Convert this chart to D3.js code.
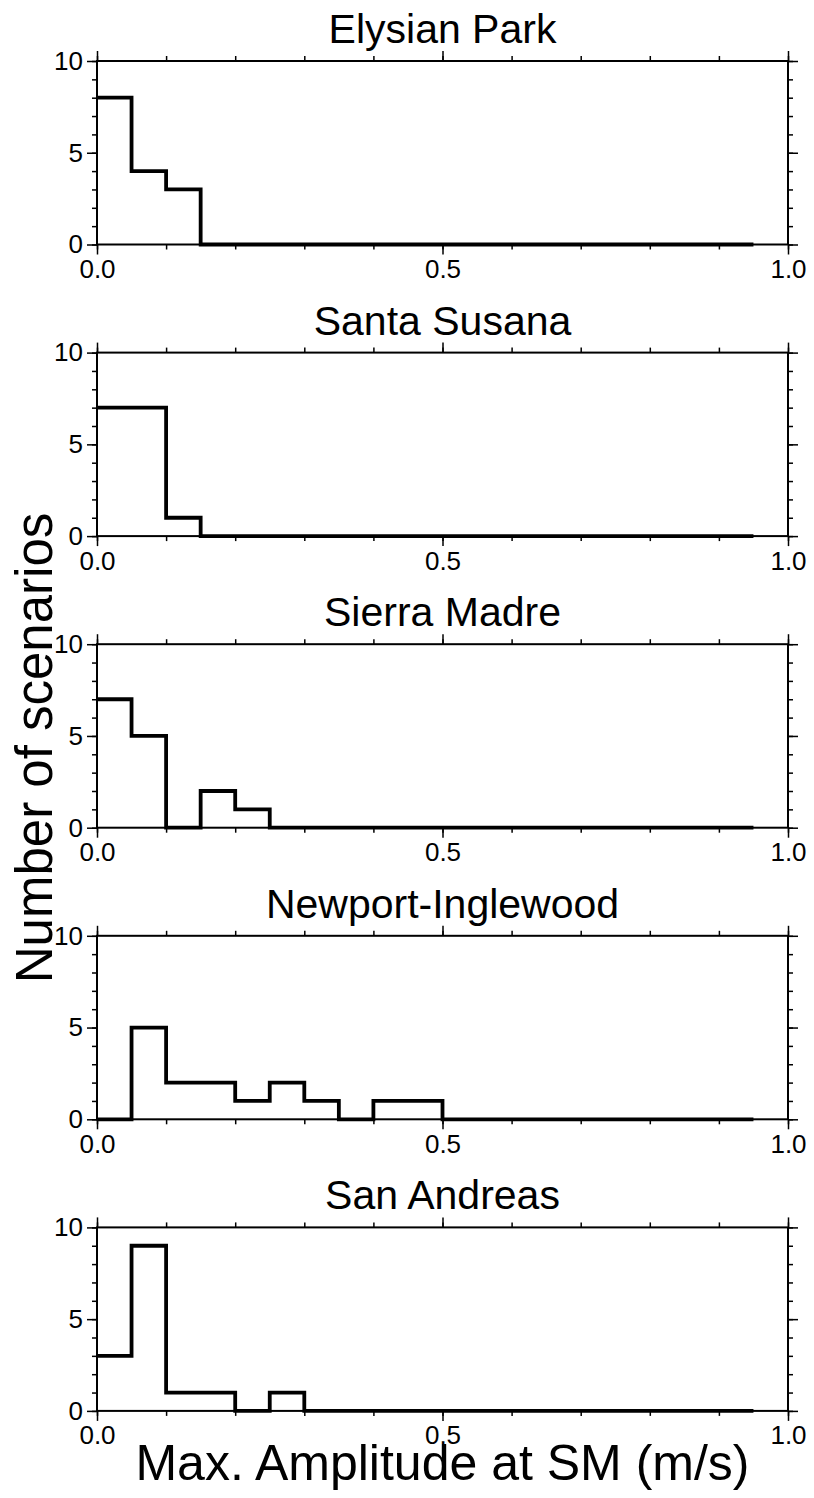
<!DOCTYPE html>
<html>
<head>
<meta charset="utf-8">
<script src="https://cdn.jsdelivr.net/npm/d3@7"></script>
<style>
  body { margin: 0; background: #fff; }
  svg { display: block; font-family: "Liberation Sans", Arial, Helvetica, sans-serif; }
</style>
</head>
<body>
<svg id="chart" width="814" height="1498"></svg>
<script>
// ---- data ----
const panelTitles = ["Elysian Park", "Santa Susana", "Sierra Madre", "Newport-Inglewood", "San Andreas"];
const binEdges = [0, 0.05, 0.1, 0.15, 0.2, 0.25, 0.3, 0.35, 0.4, 0.45, 0.5, 0.55, 0.6, 0.65, 0.7, 0.75, 0.8, 0.85, 0.9, 0.95];
const countsElysian   = [8, 4, 3, 0, 0, 0, 0, 0, 0, 0, 0, 0, 0, 0, 0, 0, 0, 0, 0];
const countsSusana    = [7, 7, 1, 0, 0, 0, 0, 0, 0, 0, 0, 0, 0, 0, 0, 0, 0, 0, 0];
const countsMadre     = [7, 5, 0, 2, 1, 0, 0, 0, 0, 0, 0, 0, 0, 0, 0, 0, 0, 0, 0];
const countsNewport   = [0, 5, 2, 2, 1, 2, 1, 0, 1, 1, 0, 0, 0, 0, 0, 0, 0, 0, 0];
const countsAndreas   = [3, 9, 1, 1, 0, 1, 0, 0, 0, 0, 0, 0, 0, 0, 0, 0, 0, 0, 0];
const xMinorTicks = [0, 0.1, 0.2, 0.3, 0.4, 0.5, 0.6, 0.7, 0.8, 0.9, 1.0];
const xMajorTicks = [0, 0.5, 1.0];
const xTickLabels = ["0.0", "0.5", "1.0"];
const yMinorTicks = [0, 1, 2, 3, 4, 5, 6, 7, 8, 9, 10];
const yMajorTicks = [0, 5, 10];
const yTickLabels = ["0", "5", "10"];
const xLabel = "Max. Amplitude at SM (m/s)";
const yLabel = "Number of scenarios";

const allCounts = [countsElysian, countsSusana, countsMadre, countsNewport, countsAndreas];

// ---- layout ----
const svg = d3.select("#chart");
const left = 97, right = 788;
const firstTop = 61, panelH = 183.5, panelStep = 291.6;
const x = d3.scaleLinear().domain([0, 1]).range([left, right]);

allCounts.forEach((counts, i) => {
  const top = firstTop + i * panelStep;
  const bottom = top + panelH;
  const y = d3.scaleLinear().domain([0, 10]).range([bottom, top]);
  const g = svg.append("g");

  // title
  g.append("text")
    .attr("x", (left + right) / 2)
    .attr("y", top - 18)
    .attr("text-anchor", "middle")
    .attr("font-size", 41)
    .text(panelTitles[i]);

  const styleAxis = sel => {
    sel.select(".domain").remove();
    sel.selectAll(".tick line").attr("stroke", "#000").attr("stroke-width", 1.5);
    sel.selectAll("text").attr("fill", "#000").attr("font-size", 26)
      .attr("font-family", "'Liberation Sans', Arial, Helvetica, sans-serif");
  };
  // bottom
  g.append("g").attr("transform", `translate(0,${bottom})`)
    .call(d3.axisBottom(x).tickValues(xMinorTicks).tickSize(5).tickFormat(""))
    .call(styleAxis);
  g.append("g").attr("transform", `translate(0,${bottom})`)
    .call(d3.axisBottom(x).tickValues(xMajorTicks).tickSize(10).tickPadding(5)
      .tickFormat((d, k) => xTickLabels[k]))
    .call(styleAxis);
  // top
  g.append("g").attr("transform", `translate(0,${top})`)
    .call(d3.axisTop(x).tickValues(xMinorTicks).tickSize(5).tickFormat(""))
    .call(styleAxis);
  g.append("g").attr("transform", `translate(0,${top})`)
    .call(d3.axisTop(x).tickValues(xMajorTicks).tickSize(10).tickFormat(""))
    .call(styleAxis);
  // left
  g.append("g").attr("transform", `translate(${left},0)`)
    .call(d3.axisLeft(y).tickValues(yMinorTicks).tickSize(5).tickFormat(""))
    .call(styleAxis);
  g.append("g").attr("transform", `translate(${left},0)`)
    .call(d3.axisLeft(y).tickValues(yMajorTicks).tickSize(10).tickPadding(4)
      .tickFormat((d, k) => yTickLabels[k]))
    .call(styleAxis);
  // right
  g.append("g").attr("transform", `translate(${right},0)`)
    .call(d3.axisRight(y).tickValues(yMinorTicks).tickSize(5).tickFormat(""))
    .call(styleAxis);
  g.append("g").attr("transform", `translate(${right},0)`)
    .call(d3.axisRight(y).tickValues(yMajorTicks).tickSize(10).tickFormat(""))
    .call(styleAxis);

  // frame
  g.append("rect")
    .attr("x", left).attr("y", top)
    .attr("width", right - left).attr("height", bottom - top)
    .attr("fill", "none").attr("stroke", "#000").attr("stroke-width", 2);

  // histogram step line
  const pts = [];
  counts.forEach((c, k) => {
    pts.push([binEdges[k], c]);
    pts.push([k + 1 < binEdges.length ? binEdges[k + 1] : binEdges[k] + 0.05, c]);
  });
  const line = d3.line().x(d => x(d[0])).y(d => y(d[1]));
  g.append("path")
    .attr("d", line(pts))
    .attr("fill", "none")
    .attr("stroke", "#000")
    .attr("stroke-width", 3.8)
    .attr("stroke-linejoin", "miter")
    .attr("stroke-linecap", "butt");
});

// axis labels
svg.append("text")
  .attr("x", (left + right) / 2)
  .attr("y", 1480)
  .attr("text-anchor", "middle")
  .attr("font-size", 50)
  .text(xLabel);

svg.append("text")
  .attr("transform", `translate(52,748) rotate(-90)`)
  .attr("text-anchor", "middle")
  .attr("font-size", 51)
  .text(yLabel);
</script>
</body>
</html>
